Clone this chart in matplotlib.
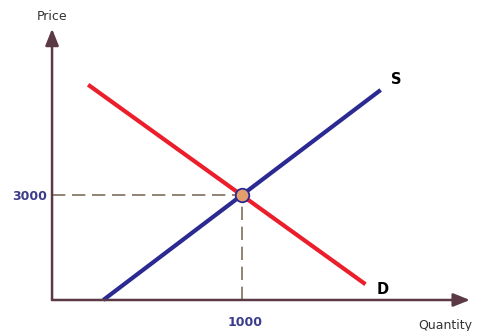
import matplotlib.pyplot as plt

# supply and demand lines (quantity, price)
supply_q = [270, 1730]
supply_p = [0, 6000]
demand_q = [190, 1650]
demand_p = [6150, 450]

eq_q = 1000
eq_p = 3000

fig = plt.figure(figsize=(4.8, 3.31), dpi=100)
ax = fig.add_axes([0, 0, 1, 1])
ax.set_xlim(-274, 2253)
ax.set_ylim(-886, 8571)
ax.axis('off')

axis_col = '#5b3a46'
# axes with arrow heads
ax.annotate('', xy=(2200, 0), xytext=(0, 0),
            arrowprops=dict(arrowstyle='-|>,head_length=1.0,head_width=0.4',
                            color=axis_col, lw=1.8, shrinkA=0, shrinkB=0))
ax.annotate('', xy=(0, 7750), xytext=(0, 0),
            arrowprops=dict(arrowstyle='-|>,head_length=1.0,head_width=0.4',
                            color=axis_col, lw=1.8, shrinkA=0, shrinkB=0))

# dashed guide lines
ax.plot([0, eq_q], [eq_p, eq_p], ls=(0, (8, 4)), color='#7d6e5e', lw=1.2)
ax.plot([eq_q, eq_q], [0, eq_p], ls=(0, (8, 4)), color='#7d6e5e', lw=1.2)

ax.plot(demand_q, demand_p, color='#ea1f2b', lw=3.0, solid_capstyle='butt')
ax.plot(supply_q, supply_p, color='#2b2a92', lw=3.0, solid_capstyle='butt')

ax.scatter([eq_q], [eq_p], s=95, color='#e4a06c', edgecolor='#2b2a92', lw=1.3, zorder=5)

ax.text(1810, 6300, 'S', fontsize=10.5, fontweight='bold', ha='center', va='center')
ax.text(1740, 300, 'D', fontsize=10.5, fontweight='bold', ha='center', va='center')
ax.text(-25, eq_p - 50, '3000', fontsize=9, fontweight='bold', color='#3b3b8c',
        ha='right', va='center')
ax.text(eq_q + 15, -630, '1000', fontsize=9, fontweight='bold', color='#3b3b8c',
        ha='center', va='center')
ax.text(0, 8090, 'Price', fontsize=9, color='#333333', ha='center', va='center')
ax.text(2070, -715, 'Quantity', fontsize=9, color='#333333', ha='center', va='center')

fig.savefig('out.png', dpi=100)
